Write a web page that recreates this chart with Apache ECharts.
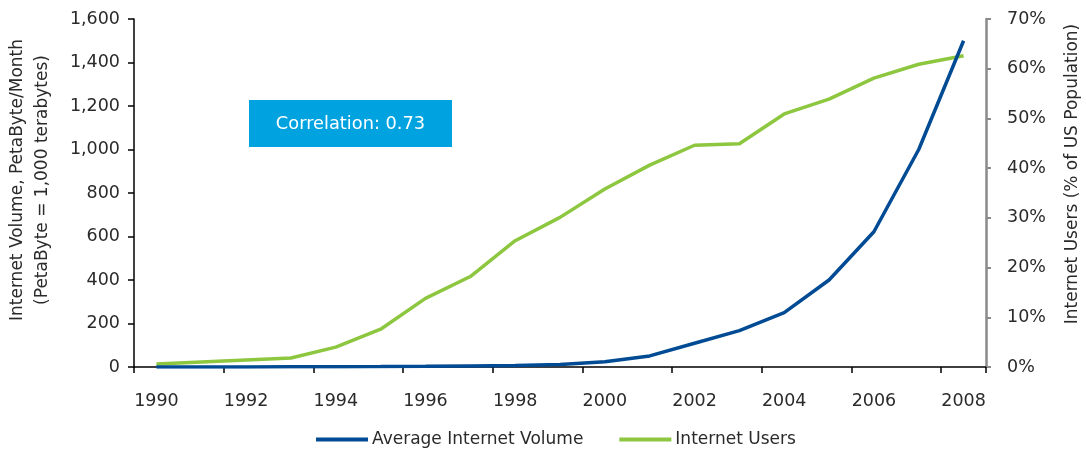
<!DOCTYPE html>
<html>
<head>
<meta charset="utf-8">
<script src="https://cdn.jsdelivr.net/npm/echarts@6/dist/echarts.min.js"></script>
<style>
html,body{margin:0;padding:0;background:#fff;}
#chart{width:1086px;height:449px;}
</style>
</head>
<body>
<div id="chart"></div>
<script>
var years = ['1990','1991','1992','1993','1994','1995','1996','1997','1998','1999','2000','2001','2002','2003','2004','2005','2006','2007','2008'];
var internetVolume = [0, 0, 0.5, 1, 1.5, 2, 3, 5, 7, 12, 24, 51, 109, 167, 250, 400, 622, 1000, 1500];
var internetUsers = [0.6, 1.0, 1.4, 1.8, 4.0, 7.6, 13.8, 18.2, 25.4, 30.1, 35.8, 40.6, 44.6, 44.9, 50.9, 53.9, 58.1, 60.9, 62.6];
var seriesNames = ['Average Internet Volume', 'Internet Users'];
var leftAxisName = 'Internet Volume, PetaByte/Month\n(PetaByte = 1,000 terabytes)';
var rightAxisName = 'Internet Users (% of US Population)';
var annotationText = 'Correlation: 0.73';

var FONT = 'DejaVu Sans';
var TXT = '#2a2a2a';
var BLUE = '#004B93';
var GREEN = '#8DC63F';

var chart = echarts.init(document.getElementById('chart'), null, {renderer: 'canvas'});
chart.setOption({
  animation: false,
  backgroundColor: '#ffffff',
  textStyle: {fontFamily: FONT},
  grid: {left: 134, right: 100, top: 19, bottom: 82, containLabel: false},
  legend: {
    data: seriesNames,
    left: 311,
    top: 426,
    icon: 'rect',
    itemWidth: 52,
    itemHeight: 4,
    itemGap: 36,
    textStyle: {fontFamily: FONT, fontSize: 17, color: TXT, padding: [0, 0, 0, -1]}
  },
  xAxis: {
    type: 'category',
    data: years,
    boundaryGap: true,
    axisLine: {show: true, lineStyle: {color: '#000', width: 1.5}},
    axisTick: {show: true, interval: 1, length: 6, lineStyle: {color: '#000', width: 1.5}},
    axisLabel: {interval: 1, margin: 25, fontFamily: FONT, fontSize: 17.5, color: TXT},
    splitLine: {show: false}
  },
  yAxis: [{
    type: 'value',
    min: 0, max: 1600, interval: 200,
    position: 'left',
    axisLine: {show: true, lineStyle: {color: '#000', width: 1.5}},
    axisTick: {show: true, length: 6, lineStyle: {color: '#000', width: 1.5}},
    axisLabel: {
      margin: 14, fontFamily: FONT, fontSize: 17.5, color: TXT,
      formatter: function (v) { return v.toLocaleString('en-US'); }
    },
    splitLine: {show: false}
  }, {
    type: 'value',
    min: 0, max: 70, interval: 10,
    position: 'right',
    axisLine: {show: true, lineStyle: {color: '#8a8a8a', width: 2.5}},
    axisTick: {show: true, length: 5, lineStyle: {color: '#8a8a8a', width: 2}},
    axisLabel: {margin: 21, fontFamily: FONT, fontSize: 17.5, color: TXT, formatter: '{value}%'},
    splitLine: {show: false}
  }],
  graphic: [{
    type: 'text',
    x: 30, y: 180,
    rotation: Math.PI / 2,
    style: {text: leftAxisName, fontFamily: FONT, fontSize: 17, fill: TXT,
      textAlign: 'center', textVerticalAlign: 'middle', lineHeight: 25}
  }, {
    type: 'text',
    x: 1073, y: 174,
    rotation: Math.PI / 2,
    style: {text: rightAxisName, fontFamily: FONT, fontSize: 17, fill: TXT,
      textAlign: 'center', textVerticalAlign: 'middle'}
  }, {
    type: 'rect',
    shape: {x: 249, y: 100, width: 203, height: 47},
    style: {fill: '#00A3E0'},
    z: 10
  }, {
    type: 'text',
    x: 350.5, y: 124,
    style: {text: annotationText, fontFamily: FONT, fontSize: 17.8, fill: '#ffffff',
      textAlign: 'center', textVerticalAlign: 'middle'},
    z: 11
  }],
  series: [{
    name: seriesNames[0],
    type: 'line',
    yAxisIndex: 0,
    data: internetVolume,
    showSymbol: false,
    symbol: 'none',
    color: BLUE,
    lineStyle: {color: BLUE, width: 3.5},
    z: 3
  }, {
    name: seriesNames[1],
    type: 'line',
    yAxisIndex: 1,
    data: internetUsers,
    showSymbol: false,
    symbol: 'none',
    color: GREEN,
    lineStyle: {color: GREEN, width: 3.5},
    z: 2
  }]
});
</script>
</body>
</html>
